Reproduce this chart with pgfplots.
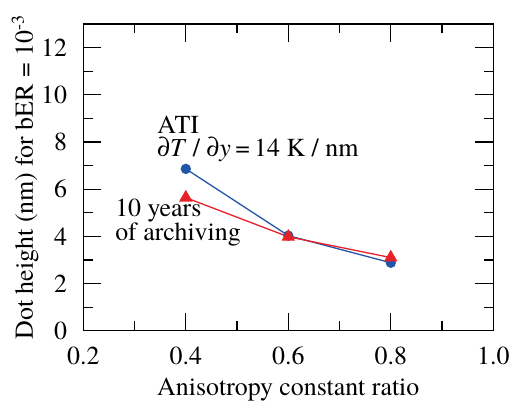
\documentclass[border=0pt]{standalone}
\usepackage{fontspec}
\setmainfont{texgyretermes}[Extension=.otf, UprightFont=*-regular, ItalicFont=*-italic, BoldFont=*-bold, BoldItalicFont=*-bolditalic]
\usepackage{pgfplots}
\pgfplotsset{compat=1.18}
\definecolor{myblue}{RGB}{36,86,168}
\definecolor{myred}{RGB}{232,32,40}
\begin{document}
\begin{tikzpicture}[font=\fontsize{26}{30}\selectfont]
\begin{axis}[
  at={(0,0)}, anchor=south west,
  scale only axis, width=410bp, height=306.7bp,
  xmin=0.2, xmax=1.0, ymin=0, ymax=13,
  xtick={0.2,0.4,0.6,0.8,1.0},
  xticklabels={0.2,0.4,0.6,0.8,1.0},
  minor xtick={0.3,0.5,0.7,0.9},
  ytick={0,2,4,6,8,10,12},
  minor ytick={1,3,5,7,9,11},
  tick align=inside,
  major tick length=18bp, minor tick length=9.5bp,
  every tick/.style={black, line width=1.2bp},
  axis line style={line width=1.4bp},
  /pgf/number format/assume math mode=true,
  tick label style={inner sep=0pt},
  xticklabel style={yshift=-16bp},
  yticklabel style={xshift=-16bp},
  xlabel={Anisotropy constant ratio},
  ylabel={Dot height (nm) for bER = 10\textsuperscript{-3}},
  xlabel style={at={(axis description cs:0.5,-0.2097)}, anchor=base},
  ylabel style={at={(axis description cs:-0.1227,0.5)}, anchor=base},
  clip=false,
]
\addplot[myblue, line width=1.3bp, mark=*, mark size=4.5bp, mark options={fill=myblue, draw=myblue}]
  coordinates {(0.4,6.86) (0.6,4.03) (0.8,2.88)};
\addplot[myred, line width=1.3bp, mark=triangle*, mark size=6.5bp, mark options={fill=myred, draw=myred}]
  coordinates {(0.4,5.64) (0.6,3.98) (0.8,3.10)};
\node[anchor=base west, inner sep=0pt] at (axis cs:0.344,8.36) {ATI};
\node[anchor=base west, inner sep=0pt] at (axis cs:0.344,7.37) {\textit{∂T} / \textit{∂y}\,=\,14 K / nm};
\node[anchor=base west, inner sep=0pt] at (axis cs:0.262,4.82) {10 years};
\node[anchor=base west, inner sep=0pt] at (axis cs:0.262,3.84) {of archiving};
\end{axis}
\pgfresetboundingbox
\path (-83.3bp,-74.3bp) rectangle (427.7bp,330.7bp);
\end{tikzpicture}
\end{document}
